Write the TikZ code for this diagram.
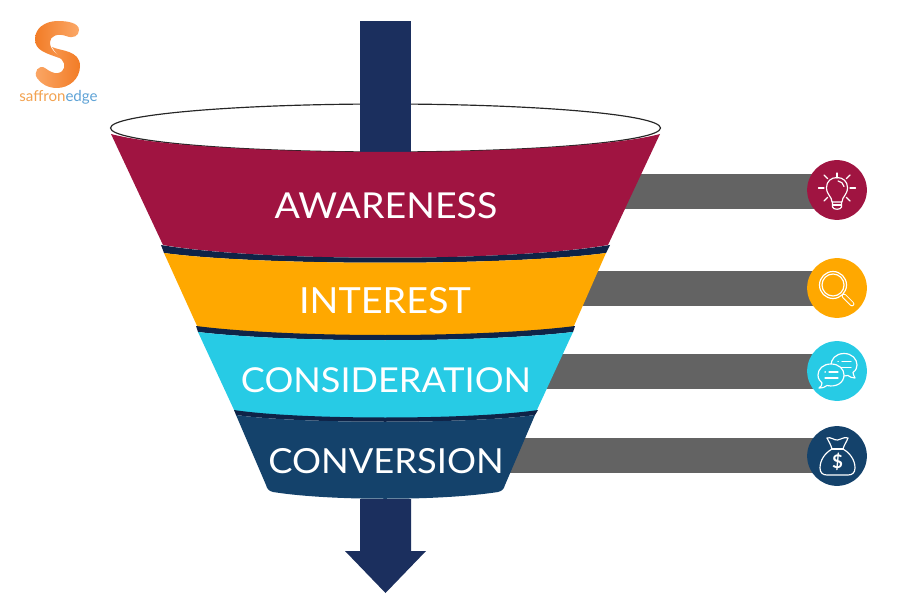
\documentclass[tikz,border=0pt]{standalone}
\usepackage{fontspec}
\setmainfont{Lato}
\newfontfamily\stagefont[FakeStretch=1.05]{Lato}
\usetikzlibrary{backgrounds}
\definecolor{crimson}{HTML}{A01441}
\definecolor{amber}{HTML}{FFA800}
\definecolor{skyblue}{HTML}{27CBE5}
\definecolor{deepblue}{HTML}{14426B}
\definecolor{arrowblue}{HTML}{1B2F5E}
\definecolor{bandblue}{HTML}{0F2347}
\definecolor{bargrey}{HTML}{636363}
\definecolor{logodark}{HTML}{F27C26}
\definecolor{logolight}{HTML}{FBA868}
\definecolor{logotext}{HTML}{F2A250}
\definecolor{logoblue}{HTML}{5FA3D6}
\tikzset{
  stage/.style={white, font=\stagefont\fontsize{#1}{#1}\selectfont},
  barline/.style={bargrey, line width=29.8pt},
  badge/.style={circle, inner sep=0, minimum size=51pt},
  icon/.style={white, line width=1pt, line cap=round, line join=round}
}
\begin{document}
\begin{tikzpicture}[x=0.03cm, y=-0.03cm]
      \useasboundingbox (0,0) rectangle (900,600);
      \coordinate (bar1) at (620,191.5);
      \coordinate (bar2) at (570,288.5);
      \coordinate (bar3) at (535,371.5);
      \coordinate (bar4) at (495,455.5);
      \node[badge, fill=crimson] (bulb) at (837,190) {};
      \node[badge, fill=amber] (lens) at (837,288) {};
      \node[badge, fill=skyblue] (chat) at (837,371) {};
      \node[badge, fill=deepblue] (bag) at (837,456) {};
      % bars go behind the funnel and the badges
      \begin{scope}[on background layer]
        \draw[barline] (bar1) -- (bar1 -| bulb);
        \draw[barline] (bar2) -- (bar2 -| lens);
        \draw[barline] (bar3) -- (bar3 -| chat);
        \draw[barline] (bar4) -- (bar4 -| bag);
      \end{scope}
      % funnel mouth and top arrow
      \draw[black!85, fill=white, line width=1pt] (385.5,128) ellipse (275 and 24);
      \fill[arrowblue] (360,21) rectangle (411,153);
      % funnel
      \fill[crimson] (111,134) .. controls (200,158) and (570,158) .. (660,134)
        -- (608,245) .. controls (510,262) and (260,262) .. (163,245) -- cycle;
      \fill[bandblue] (161,245) .. controls (260,262) and (510,262) .. (610,245)
        -- (606,253) .. controls (510,266) and (260,266) .. (164,253) -- cycle;
      \fill[amber] (164,253) .. controls (260,266) and (510,266) .. (606,253)
        -- (573,328) .. controls (480,338) and (290,338) .. (198,328) -- cycle;
      \fill[bandblue] (196,326) .. controls (290,338) and (480,338) .. (575,326)
        -- (573,332) .. controls (480,343) and (290,343) .. (198,332) -- cycle;
      \fill[skyblue] (198,332) .. controls (290,343) and (480,343) .. (573,332)
        -- (536,412) .. controls (470,420) and (300,420) .. (235,412) -- cycle;
      \fill[bandblue] (234,410) .. controls (300,420) and (470,420) .. (538,410)
        -- (535,415) .. controls (470,424) and (300,424) .. (236,415) -- cycle;
      \fill[deepblue] (236,415) .. controls (300,424) and (470,424) .. (535,415)
        -- (505,485) .. controls (504,489) and (502,491) .. (498,492)
        .. controls (440,501) and (330,501) .. (273,492)
        .. controls (269,491) and (267,489) .. (266,485) -- cycle;
      % bottom arrow
      \fill[arrowblue] (360,499) -- (411,499) -- (411,551) -- (426,551) -- (385.5,593)
        -- (345,551) -- (360,551) -- cycle;
      \node[stage=30.5] (awareness) at (386,206) {AWARENESS};
      \node[stage=30.7] (interest) at (385,301) {INTEREST};
      \node[stage=29.3] (consideration) at (386,380) {CONSIDERATION};
      \node[stage=29.5] (conversion) at (386,461) {CONVERSION};
      % bulb
      \draw[icon] (832,202) .. controls (832,196.5) and (826.5,195) .. (826.5,187.5)
        .. controls (826.5,181.5) and (831,177.5) .. (837,177.5)
        .. controls (843,177.5) and (847.5,181.5) .. (847.5,187.5)
        .. controls (847.5,195) and (842,196.5) .. (842,202) -- cycle;
      \draw[icon] (838,181) .. controls (841,181.3) and (843.5,183.5) .. (844,186.5);
      \draw[icon] (832.5,202) -- (832.5,207) .. controls (833,210) and (841,210) .. (841.5,207) -- (841.5,202);
      \draw[icon] (832.5,205) -- (841.5,205);
      \foreach \a in {0,45,135,180,225,315} {
        \draw[icon] (837,188) ++(\a:13) -- ++(\a:5.5);
      }
      \draw[icon] (837,178) -- (837,173);
      % magnifier
      \draw[icon] (833,285) circle (13.5);
      \draw[icon] (833,285) circle (11);
      \draw[white, line width=4pt, line cap=round] (844,296) -- (852,304);
      \draw[amber, line width=2.4pt, line cap=round] (844,296) -- (852,304);
      % chat bubbles
      \draw[icon, fill=skyblue] (844,353.5) .. controls (835,353.5) and (831,360) .. (831,365)
        .. controls (831,372) and (837,376) .. (844,376) -- (848,375.5) .. controls (850,377) and (852,378) .. (855,378)
        .. controls (854,376) and (853,374) .. (853,372.5) .. controls (856,370) and (857,368) .. (857,365)
        .. controls (857,359) and (852,353.5) .. (844,353.5) -- cycle;
      \draw[icon] (838,361.5) -- (838.3,361.5) (842,361.5) -- (851,361.5) (838,367.5) -- (851,367.5);
      \draw[icon, fill=skyblue] (831,364) .. controls (823,364) and (818,369) .. (818,375)
        .. controls (818,379) and (820,381) .. (822,383) .. controls (822,385) and (821,387) .. (819,388)
        .. controls (823,388) and (825,387) .. (827,385.5) .. controls (836,387.5) and (844,383) .. (844,375)
        .. controls (844,369) and (839,364) .. (831,364) -- cycle;
      \draw[icon] (825,372) -- (825.3,372) (829,372) -- (838,372) (825,378) -- (838,378);
      % money bag
      \draw[icon] (832,449) -- (843,449);
      \draw[icon] (832,449) .. controls (831,445) and (829,442) .. (827,438)
        .. controls (831,436.5) and (834,440.5) .. (837.5,440)
        .. controls (841,439.5) and (844,436.5) .. (848,438)
        .. controls (846.5,442) and (844,445) .. (843,449)
        .. controls (850,453) and (855,460) .. (855,468) .. controls (855,473) and (852,475) .. (848,475)
        -- (827,475) .. controls (823,475) and (820,473) .. (820,468) .. controls (820,460) and (825,453) .. (832,449);
      \node[white, font=\bfseries\fontsize{16}{16}\selectfont, inner sep=0] (dollar) at (837.5,462) {\$};
      % logo
      \shade[left color=logodark, right color=logolight] (58,21) .. controls (44,21) and (35,29) .. (35,39)
        .. controls (35,51) and (46,53) .. (62,59)
        .. controls (56,53) and (50,50) .. (50,42)
        .. controls (50,36) and (58,33) .. (66,36)
        .. controls (73,39) and (79,36) .. (79,30)
        .. controls (79,23) and (68,21) .. (58,21) -- cycle;
      \shade[left color=logolight, right color=logodark] (52,47) .. controls (60,51) and (80,50) .. (80,66)
        .. controls (80,79) and (69,88) .. (57,88)
        .. controls (48,88) and (41,84) .. (37,78)
        .. controls (33,72) and (39,64) .. (45,68)
        .. controls (49,71) and (54,74) .. (58,73)
        .. controls (65,72) and (66,64) .. (62,60)
        .. controls (58,56) and (55,52) .. (52,47) -- cycle;
      \node[font=\fontsize{12.9}{12.9}\selectfont, inner sep=0] (logotype) at (58.5,97) {\textcolor{logotext}{saffron}\textcolor{logoblue}{edge}};
\end{tikzpicture}
\end{document}
